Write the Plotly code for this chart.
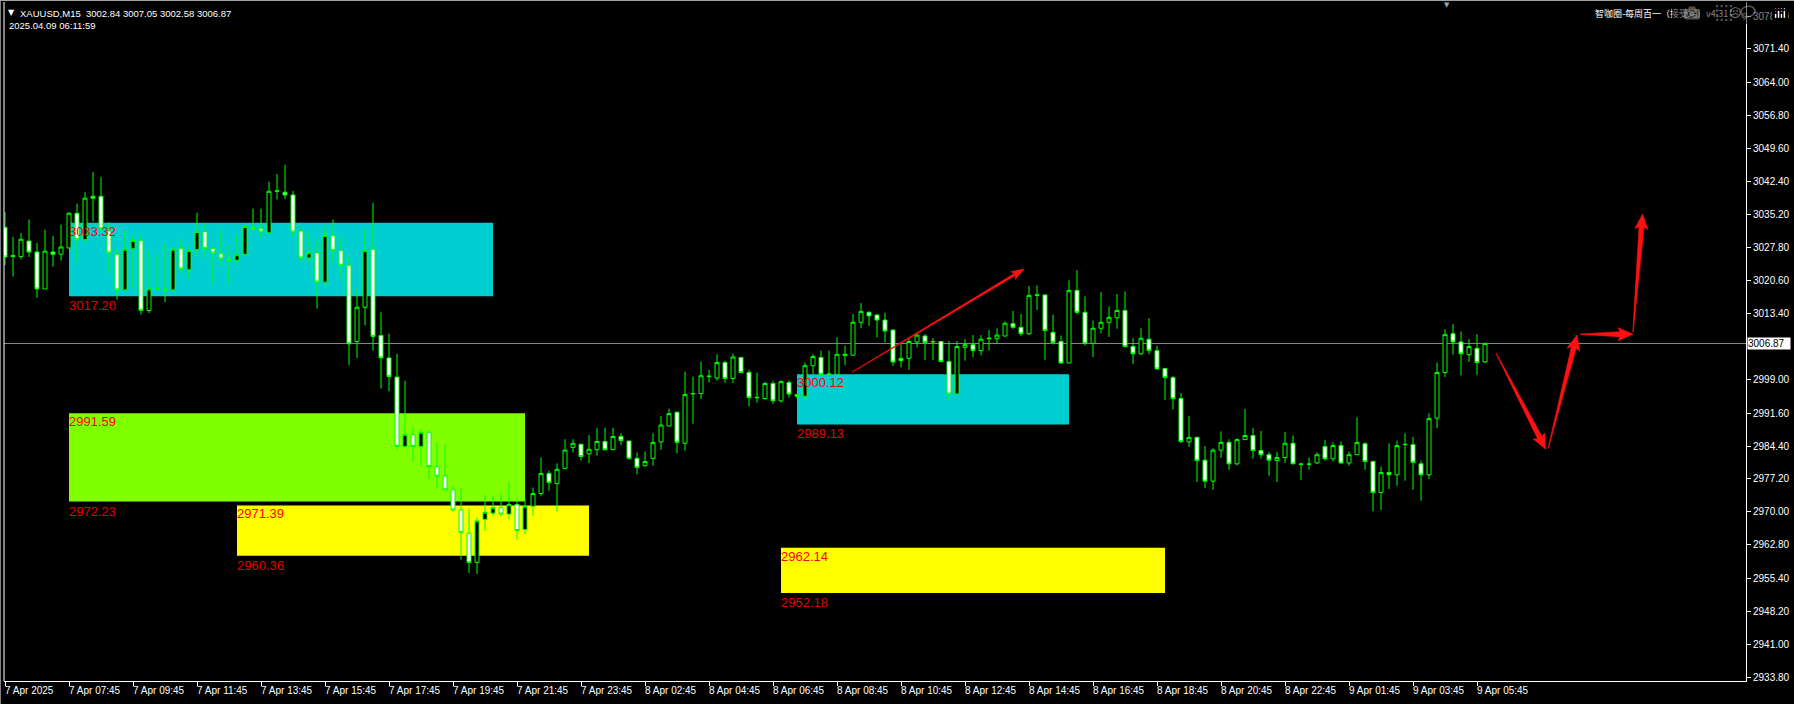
import plotly.graph_objects as go

# ---------------- data ----------------
opens = [3032.3, 3025.9, 3025.9, 3029.3, 3026.9, 3018.8, 3026.9, 3026.4, 3027.8, 3035.4,
         3029.6, 3039.1, 3039.1, 3031.5, 3026.4, 3018.6, 3027.6, 3029.4, 3014.1, 3018.8,
         3018.8, 3018.6, 3027.7, 3023.0, 3027.4, 3031.4, 3027.7, 3026.5, 3025.3, 3025.1,
         3026.4, 3032.3, 3032.1, 3031.1, 3040.2, 3040.0, 3039.4, 3031.5, 3025.6, 3026.7,
         3020.3, 3030.5, 3027.2, 3024.0, 3007.3, 3014.8, 3027.5, 3008.6, 3003.7, 2999.5,
         2984.3, 2986.9, 2984.3, 2987.4, 2979.9, 2977.8, 2974.8, 2970.4, 2965.3, 2958.9,
         2968.3, 2969.7, 2970.9, 2969.5, 2971.6, 2966.1, 2971.2, 2974.0, 2978.4, 2976.2,
         2979.5, 2984.1, 2984.8, 2982.7, 2983.6, 2985.4, 2983.6, 2986.5, 2985.5, 2981.7,
         2980.1, 2981.7, 2985.3, 2988.8, 2991.8, 2985.0, 2995.8, 2995.9, 2999.6, 2999.3,
         3002.7, 2999.2, 3003.8, 3000.5, 2995.1, 2994.8, 2998.1, 2994.3, 2998.3, 2995.7,
         2995.3, 3002.0, 3003.8, 3000.2, 3000.1, 3004.2, 3004.3, 3011.5, 3013.7, 3013.1,
         3012.0, 3009.8, 3003.6, 3003.6, 3007.2, 3008.5, 3007.2, 3007.3, 3002.9, 2995.8,
         3006.0, 3006.6, 3005.3, 3007.9, 3007.9, 3008.5, 3011.2, 3010.4, 3009.0, 3017.4,
         3017.5, 3009.3, 3007.3, 3002.6, 3018.5, 3013.7, 3006.9, 3010.2, 3011.5, 3012.5,
         3014.1, 3006.2, 3004.6, 3007.8, 3005.3, 3001.4, 2999.4, 2994.8, 2985.3, 2986.3,
         2981.3, 2976.7, 2983.5, 2985.2, 2980.5, 2985.8, 2986.7, 2983.4, 2982.5, 2981.2,
         2981.9, 2985.0, 2980.4, 2980.4, 2980.7, 2984.3, 2981.6, 2984.5, 2980.7, 2982.5,
         2984.9, 2981.0, 2974.2, 2978.6, 2978.1, 2984.7, 2984.7, 2980.5, 2978.1, 2990.5,
         3000.5, 3009.0, 3007.2, 3004.4, 3005.8, 3002.84]
highs = [3035.6, 3030.2, 3031.1, 3034.0, 3028.9, 3031.8, 3030.4, 3032.9, 3035.6, 3037.5,
         3040.0, 3044.4, 3043.3, 3033.4, 3027.6, 3031.6, 3030.5, 3030.7, 3027.2, 3026.3,
         3028.9, 3027.9, 3029.8, 3028.3, 3035.5, 3033.3, 3027.8, 3031.8, 3028.3, 3030.7,
         3032.9, 3036.4, 3036.4, 3042.3, 3044.0, 3046.0, 3040.3, 3032.1, 3031.3, 3029.9,
         3032.6, 3034.0, 3030.2, 3026.3, 3018.8, 3032.1, 3037.7, 3013.7, 3009.0, 3004.6,
         2998.7, 2988.5, 2988.1, 2987.7, 2985.2, 2984.8, 2975.7, 2975.2, 2970.7, 2968.8,
         2973.7, 2973.4, 2974.1, 2976.6, 2972.8, 2972.8, 2975.3, 2981.9, 2979.0, 2980.6,
         2985.9, 2985.9, 2984.8, 2986.8, 2988.3, 2988.4, 2988.4, 2987.2, 2985.5, 2983.0,
         2983.2, 2987.2, 2991.0, 2992.6, 2992.0, 3000.7, 2999.6, 3002.9, 3001.1, 3004.5,
         3003.1, 3004.7, 3003.9, 3001.1, 3000.5, 2998.5, 2998.7, 2998.8, 2998.8, 2995.8,
         3002.7, 3004.5, 3005.3, 3005.3, 3008.2, 3006.4, 3013.3, 3015.7, 3013.9, 3013.3,
         3013.6, 3010.0, 3006.7, 3008.0, 3009.0, 3008.9, 3008.0, 3007.4, 3007.4, 3007.4,
         3007.8, 3008.7, 3008.7, 3009.8, 3010.2, 3011.7, 3014.0, 3013.3, 3019.5, 3019.6,
         3017.6, 3013.2, 3008.6, 3020.7, 3022.9, 3017.2, 3011.9, 3018.1, 3015.0, 3017.7,
         3018.3, 3008.0, 3010.2, 3012.4, 3006.4, 3001.4, 2999.7, 2996.0, 2991.0, 2986.5,
         2984.4, 2983.9, 2987.6, 2985.9, 2986.1, 2992.5, 2988.3, 2987.7, 2983.1, 2983.1,
         2987.5, 2986.7, 2980.5, 2981.9, 2983.0, 2985.7, 2985.2, 2985.4, 2983.2, 2990.7,
         2985.2, 2981.2, 2979.9, 2985.0, 2985.6, 2987.2, 2986.4, 2981.2, 2991.6, 3002.7,
         3010.0, 3011.1, 3009.5, 3007.8, 3008.9, 3007.05]
lows = [3024.0, 3021.5, 3025.3, 3025.8, 3016.9, 3018.8, 3023.7, 3025.0, 3027.6, 3024.7,
        3029.1, 3033.6, 3031.5, 3022.1, 3016.5, 3018.5, 3018.8, 3013.2, 3013.5, 3018.5,
        3015.9, 3018.1, 3022.1, 3020.9, 3026.3, 3025.6, 3019.6, 3023.8, 3019.7, 3024.0,
        3026.3, 3031.8, 3029.9, 3031.1, 3038.4, 3038.5, 3030.2, 3024.7, 3024.3, 3014.5,
        3019.6, 3024.3, 3021.2, 3002.1, 3003.7, 3010.8, 3005.3, 2997.0, 2996.4, 2983.7,
        2984.0, 2980.9, 2979.9, 2977.2, 2975.0, 2974.8, 2970.0, 2959.5, 2956.6, 2956.4,
        2965.8, 2969.1, 2969.0, 2968.3, 2963.9, 2965.1, 2969.1, 2973.4, 2974.6, 2970.0,
        2979.3, 2983.0, 2981.2, 2980.7, 2982.3, 2983.4, 2983.6, 2984.6, 2981.4, 2978.2,
        2979.9, 2980.1, 2983.6, 2988.7, 2982.8, 2983.4, 2989.3, 2994.7, 2998.3, 2998.7,
        2998.3, 2998.2, 3000.4, 2993.1, 2993.9, 2994.5, 2993.6, 2993.9, 2995.0, 2994.8,
        2994.5, 3000.1, 2999.8, 2999.8, 3000.1, 3002.1, 3004.2, 3010.2, 3010.7, 3008.2,
        3007.1, 3001.9, 3001.6, 3001.1, 3006.0, 3003.2, 3003.2, 3002.7, 2994.7, 2995.8,
        3003.1, 3003.9, 3004.3, 3005.3, 3006.7, 3008.4, 3010.0, 3008.5, 3008.7, 3014.2,
        3003.3, 3006.6, 3002.4, 3002.6, 3013.2, 3006.4, 3003.9, 3009.1, 3008.3, 3010.1,
        3006.0, 3002.4, 3004.4, 3004.5, 3001.1, 2994.5, 2992.4, 2985.0, 2984.2, 2976.5,
        2975.2, 2974.8, 2981.8, 2979.2, 2980.2, 2985.8, 2981.6, 2981.6, 2977.9, 2976.5,
        2980.7, 2980.5, 2977.0, 2979.2, 2980.5, 2981.2, 2981.0, 2980.5, 2980.1, 2982.5,
        2979.2, 2970.1, 2970.4, 2975.0, 2975.7, 2976.8, 2974.8, 2972.4, 2977.2, 2988.3,
        2999.5, 3004.4, 2999.9, 3002.8, 3000.0, 3002.58]
closes = [3025.8, 3026.1, 3029.7, 3026.9, 3018.8, 3027.1, 3026.4, 3028.0, 3035.4, 3029.6,
          3038.7, 3038.7, 3032.0, 3026.7, 3018.6, 3027.5, 3029.4, 3014.1, 3018.8, 3018.9,
          3018.6, 3027.5, 3023.2, 3027.2, 3031.4, 3027.7, 3026.7, 3025.4, 3025.0, 3026.3,
          3032.5, 3031.9, 3031.3, 3040.2, 3040.3, 3039.4, 3031.3, 3025.6, 3026.7, 3020.3,
          3030.5, 3027.2, 3024.0, 3006.8, 3014.8, 3027.2, 3008.4, 3003.7, 2999.6, 2984.3,
          2986.9, 2984.3, 2987.4, 2979.9, 2977.8, 2974.8, 2970.4, 2965.5, 2958.9, 2968.0,
          2969.9, 2970.9, 2969.5, 2971.6, 2965.9, 2971.2, 2974.0, 2978.4, 2976.4, 2979.3,
          2983.5, 2985.0, 2982.1, 2983.7, 2985.4, 2983.6, 2986.5, 2985.6, 2981.7, 2979.7,
          2981.0, 2985.2, 2989.0, 2991.5, 2985.2, 2995.7, 2995.9, 2999.8, 2999.7, 3002.7,
          2999.2, 3003.9, 3000.5, 2995.0, 2995.0, 2998.1, 2994.3, 2998.5, 2995.8, 2995.3,
          3002.0, 3004.0, 3000.1, 3000.1, 3004.5, 3004.5, 3011.5, 3013.9, 3012.9, 3012.0,
          3009.6, 3002.8, 3003.1, 3007.3, 3008.7, 3007.1, 3007.3, 3002.9, 2995.8, 3006.2,
          3006.6, 3005.3, 3007.8, 3008.0, 3008.7, 3011.3, 3010.4, 3009.0, 3017.4, 3017.5,
          3009.7, 3007.1, 3002.6, 3018.5, 3013.7, 3006.9, 3010.2, 3011.5, 3012.6, 3014.1,
          3006.2, 3004.6, 3008.0, 3005.3, 3001.3, 2999.4, 2994.8, 2985.4, 2986.3, 2981.2,
          2976.7, 2983.5, 2985.2, 2980.5, 2985.8, 2986.7, 2983.4, 2982.5, 2981.3, 2981.9,
          2985.0, 2980.5, 2980.45, 2980.45, 2982.5, 2981.6, 2984.5, 2980.7, 2982.5, 2985.2,
          2981.0, 2974.2, 2978.6, 2978.1, 2984.5, 2984.75, 2980.8, 2978.1, 2990.4, 3000.5,
          3008.8, 3007.2, 3004.6, 3006.2, 3002.7, 3006.87]

time_labels = ["7 Apr 2025", "7 Apr 07:45", "7 Apr 09:45", "7 Apr 11:45", "7 Apr 13:45",
               "7 Apr 15:45", "7 Apr 17:45", "7 Apr 19:45", "7 Apr 21:45", "7 Apr 23:45",
               "8 Apr 02:45", "8 Apr 04:45", "8 Apr 06:45", "8 Apr 08:45", "8 Apr 10:45",
               "8 Apr 12:45", "8 Apr 14:45", "8 Apr 16:45", "8 Apr 18:45", "8 Apr 20:45",
               "8 Apr 22:45", "9 Apr 01:45", "9 Apr 03:45", "9 Apr 05:45"]
time_label_step = 8

price_ticks = [3078.60, 3071.40, 3064.00, 3056.80, 3049.60, 3042.40, 3035.20, 3027.80,
               3020.60, 3013.40, 2999.00, 2991.60, 2984.40, 2977.20, 2970.00, 2962.80,
               2955.40, 2948.20, 2941.00, 2933.80]

last_price = 3006.87

# zones: (start bar, end bar, top price, bottom price, colour)
zone_starts = [8, 8, 29, 99, 97]
zone_ends = [61, 65, 73, 133, 145]
zone_tops = [3033.32, 2991.59, 2971.39, 3000.12, 2962.14]
zone_bottoms = [3017.20, 2972.23, 2960.36, 2989.13, 2952.18]
zone_colors = ["#00CED1", "#7FFF00", "#FFFF00", "#00CED1", "#FFFF00"]

# projection arrows: (from bar, from price) -> (to bar, to price)
arrow_from = [(105.9, 3000.6), (186.4, 3004.7), (192.9, 2983.9), (196.9, 3008.9), (203.5, 3009.4)]
arrow_to = [(127.4, 3023.2), (192.6, 2983.7), (196.5, 3008.7), (203.5, 3008.9), (204.7, 3035.2)]
arrow_style = [(0.4, 2.2, 11, 4.5), (0.4, 5, 13, 6.5), (0.4, 5, 13, 6.5), (0.4, 5, 13, 6.5), (0.4, 5, 13, 6.5)]

header_left = "XAUUSD,M15  3002.84 3007.05 3002.58 3006.87"
header_time = "2025.04.09 06:11:59"
header_right = "智咖圈-每周百一（接受端）v4.31"

# ---------------- geometry ----------------
W, H = 1794, 704
ML, MR, MT, MB = 4, 48, 2, 23
PW, PH = W - ML - MR, H - MT - MB
BAR_PX = 8.0
X0 = -0.125
X1 = X0 + PW / BAR_PX
PX_PER_UNIT = 4.565
Y1 = 3081.667
Y0 = Y1 - PH / PX_PER_UNIT

FONT = "Liberation Sans, Arial, sans-serif"
idx = list(range(len(opens)))

fig = go.Figure()
fig.add_trace(go.Candlestick(
    x=idx, open=opens, high=highs, low=lows, close=closes,
    increasing=dict(line=dict(color="#00FF00", width=1), fillcolor="#000000"),
    decreasing=dict(line=dict(color="#00FF00", width=1), fillcolor="#FFFFFF"),
    whiskerwidth=0, showlegend=False, hoverinfo="skip",
))


def arrow_poly(a, b, w0, w1, head_len, head_hw):
    xa, ya = a
    xb, yb = b
    dx = (xb - xa) * BAR_PX
    dy = -(yb - ya) * PX_PER_UNIT
    L = (dx * dx + dy * dy) ** 0.5
    ux, uy = dx / L, dy / L
    nx, ny = -uy, ux
    s = L - head_len
    pts = [
        (nx * w0 / 2, ny * w0 / 2),
        (ux * s + nx * w1 / 2, uy * s + ny * w1 / 2),
        (ux * (s - 2) + nx * head_hw, uy * (s - 2) + ny * head_hw),
        (ux * L, uy * L),
        (ux * (s - 2) - nx * head_hw, uy * (s - 2) - ny * head_hw),
        (ux * s - nx * w1 / 2, uy * s - ny * w1 / 2),
        (-nx * w0 / 2, -ny * w0 / 2),
    ]
    pts.append(pts[0])
    xs = [xa + px / BAR_PX for px, py in pts]
    ys = [ya - py / PX_PER_UNIT for px, py in pts]
    return xs, ys


for a, b, st in zip(arrow_from, arrow_to, arrow_style):
    xs, ys = arrow_poly(a, b, *st)
    fig.add_trace(go.Scatter(x=xs, y=ys, mode="lines", fill="toself",
                             fillcolor="#FF1010", line=dict(color="#FF1010", width=0.6),
                             showlegend=False, hoverinfo="skip"))

shapes = []
for xs0, xs1, yt, yb, col in zip(zone_starts, zone_ends, zone_tops, zone_bottoms, zone_colors):
    shapes.append(dict(type="rect", xref="x", yref="y", x0=xs0, x1=xs1, y0=yb, y1=yt,
                       fillcolor=col, line=dict(width=0), layer="below"))
# bid line
shapes.append(dict(type="line", xref="paper", yref="y", x0=0, x1=1, y0=last_price, y1=last_price,
                   line=dict(color="#8C8C8C", width=1), layer="below"))
# frame lines
shapes.append(dict(type="line", xref="paper", yref="paper", x0=0, x1=0, y0=0, y1=1,
                   line=dict(color="#FFFFFF", width=1)))
shapes.append(dict(type="line", xref="paper", yref="paper", x0=-3.5 / PW, x1=-3.5 / PW, y0=-MB / PH, y1=1 + MT / PH,
                   line=dict(color="#808080", width=1)))
shapes.append(dict(type="line", xref="paper", yref="paper", x0=-ML / PW, x1=(W - ML) / PW,
                   y0=1 + 1.5 / PH, y1=1 + 1.5 / PH, line=dict(color="#A0A0A0", width=1)))

annotations = []
for k, lab in enumerate(time_labels):
    annotations.append(dict(x=k * time_label_step, y=0, xref="x", yref="paper", text=lab,
                            xanchor="left", yanchor="top", yshift=-2, xshift=-2, showarrow=False,
                            font=dict(family=FONT, size=10, color="#FFFFFF")))

for xs0, yt, yb in zip(zone_starts, zone_tops, zone_bottoms):
    annotations.append(dict(x=xs0, y=yt, xref="x", yref="y", text=f"{yt:.2f}", xanchor="left",
                            yanchor="top", xshift=-2, yshift=1, showarrow=False,
                            font=dict(family=FONT, size=13, color="#FF0000")))
    annotations.append(dict(x=xs0, y=yb, xref="x", yref="y", text=f"{yb:.2f}", xanchor="left",
                            yanchor="top", xshift=-2, yshift=0, showarrow=False,
                            font=dict(family=FONT, size=13, color="#E00000")))

# current price label
annotations.append(dict(x=1, y=last_price, xref="paper", yref="y", text=f"{last_price:.2f}",
                        xanchor="left", yanchor="middle", xshift=1, showarrow=False,
                        bgcolor="#FFFFFF", borderpad=0, width=42, align="left",
                        font=dict(family=FONT, size=10, color="#000000")))

# header texts
annotations.append(dict(x=0, y=1, xref="paper", yref="paper", text="▼", xanchor="center",
                        yanchor="middle", xshift=7.5, yshift=-10, showarrow=False,
                        font=dict(family="DejaVu Sans", size=8, color="#FFFFFF")))
annotations.append(dict(x=0, y=1, xref="paper", yref="paper", text=header_left, xanchor="left",
                        yanchor="middle", xshift=14, yshift=-11, showarrow=False,
                        font=dict(family=FONT, size=9.5, color="#FFFFFF")))
annotations.append(dict(x=0, y=1, xref="paper", yref="paper", text=header_time, xanchor="left",
                        yanchor="middle", xshift=3, yshift=-23, showarrow=False,
                        font=dict(family=FONT, size=9.5, color="#FFFFFF")))
annotations.append(dict(x=1, y=1, xref="paper", yref="paper", text=header_right, xanchor="left",
                        yanchor="middle", xshift=1593 - (W - MR), yshift=-11, showarrow=False,
                        font=dict(family="Noto Sans CJK SC", size=9, color="#FFFFFF")))
annotations.append(dict(x=1, y=1, xref="paper", yref="paper", text="☹", xanchor="center",
                        yanchor="middle", xshift=1735 - (W - MR), yshift=-11, showarrow=False,
                        font=dict(family="DejaVu Sans", size=12, color="#FFFFFF")))
annotations.append(dict(x=(1447 - ML) / PW, y=1, xref="paper", yref="paper", text="▼", xanchor="center",
                        yanchor="top", yshift=3, showarrow=False,
                        font=dict(family="DejaVu Sans", size=7, color="#9AA0B0")))

fig.update_layout(
    width=W, height=H,
    margin=dict(l=ML, r=MR, t=MT, b=MB, pad=0),
    paper_bgcolor="#000000", plot_bgcolor="#000000",
    showlegend=False,
    boxgap=0.5, boxgroupgap=0,
    shapes=shapes, annotations=annotations,
    xaxis=dict(range=[X0, X1], type="linear", rangeslider=dict(visible=False),
               showgrid=False, zeroline=False, showline=True, linecolor="#FFFFFF", linewidth=1,
               tickmode="array", tickvals=[k * time_label_step for k in range(len(time_labels))],
               showticklabels=False, ticks="outside", ticklen=4, tickcolor="#FFFFFF", tickwidth=1,
               fixedrange=True),
    yaxis=dict(range=[Y0, Y1], side="right", showgrid=False, zeroline=False,
               showline=True, linecolor="#FFFFFF", linewidth=1,
               tickmode="array", tickvals=price_ticks, ticktext=[f"{v:.2f}" for v in price_ticks],
               ticks="outside", ticklen=4, tickcolor="#FFFFFF", tickwidth=1,
               tickfont=dict(family=FONT, size=10, color="#FFFFFF"), fixedrange=True),
)

fig.write_html(
    "out.html",
    post_script="document.body.style.margin='0';document.body.style.background='#000';"
                "document.body.style.overflow='hidden';",
)
